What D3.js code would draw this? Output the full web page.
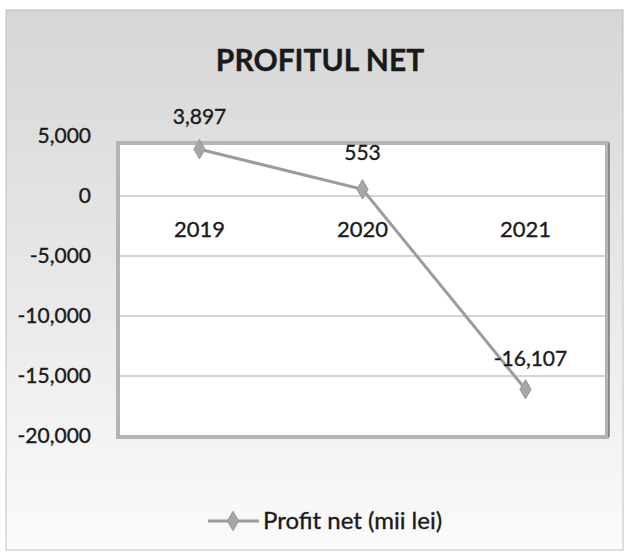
<!DOCTYPE html>
<html lang="en">
<head>
<meta charset="UTF-8">
<title>Profitul net</title>
<style>
	body{margin:0;background:#fff;}
	text{font-family:Lato, "Open Sans", sans-serif;fill:#1a1a1a;stroke:#1a1a1a;stroke-width:0.35px;}
</style>
</head>
<body>
<div id="chart"></div>
<script src="https://d3js.org/d3.v7.min.js"></script>
<script>
	var years = ['2019', '2020', '2021'];
	var profit = [3897, 553, -16107];
	var yTicks = [5000, 0, -5000, -10000, -15000, -20000];
	var seriesName = 'Profit net (mii lei)';

	var W = 629, H = 557;
	// plain hyphen for negatives, like the original
	var fmt = d3.formatLocale({decimal: '.', thousands: ',', grouping: [3], currency: ['', ''], minus: '-'}).format(',');

	var svg = d3.select('#chart').append('svg')
		.attr('width', W).attr('height', H);

	// background gradient like the office chart area
	var grad = svg.append('defs').append('linearGradient')
		.attr('id', 'bg').attr('x1', 0).attr('y1', 0).attr('x2', 0).attr('y2', 1);
	grad.append('stop').attr('offset', '0%').attr('stop-color', '#d6d6d6');
	grad.append('stop').attr('offset', '45%').attr('stop-color', '#e6e6e6');
	grad.append('stop').attr('offset', '100%').attr('stop-color', '#fbfbfb');

	svg.append('rect')
		.attr('x', 6).attr('y', 10).attr('width', 617).attr('height', 540)
		.attr('fill', 'url(#bg)').attr('stroke', '#bdbdbd').attr('stroke-width', 1);

	var plot = {left: 118, right: 607, top: 143, bottom: 437};

	var x = d3.scaleBand().domain(years).range([plot.left, plot.right]);
	var y = d3.scaleLinear().domain([-20000, 5000]).range([436, 136]);

	// plot area
	svg.append('rect')
		.attr('x', plot.left).attr('y', plot.top)
		.attr('width', plot.right - plot.left).attr('height', plot.bottom - plot.top)
		.attr('fill', '#fff').attr('stroke', '#b4b4b4').attr('stroke-width', 4);
	svg.append('line')
		.attr('x1', plot.right + 2).attr('x2', plot.right + 2)
		.attr('y1', plot.top).attr('y2', plot.bottom)
		.attr('stroke', '#777').attr('stroke-width', 1.5);

	// gridlines
	svg.append('g').selectAll('line')
		.data(yTicks.filter(d => d < 5000 && d > -20000))
		.enter().append('line')
		.attr('x1', plot.left + 2).attr('x2', plot.right - 2)
		.attr('y1', d => y(d)).attr('y2', d => y(d))
		.attr('stroke', '#a8a8a8').attr('stroke-width', 1);

	// y axis labels
	var yAxis = d3.axisLeft(y).tickValues(yTicks).tickSize(0).tickPadding(0)
		.tickFormat(fmt);
	var gy = svg.append('g').attr('transform', 'translate(91,0)').call(yAxis);
	gy.select('.domain').remove();
	gy.selectAll('text').attr('font-size', 21).attr('fill', '#1a1a1a')
		.attr('font-family', 'Lato, sans-serif');

	// category labels under the zero line
	var xAxis = d3.axisBottom(x).tickSize(0).tickPadding(0);
	var gx = svg.append('g').attr('transform', 'translate(0,' + (y(0) + 25) + ')').call(xAxis);
	gx.select('.domain').remove();
	gx.selectAll('text').attr('font-size', 22).attr('fill', '#1a1a1a')
		.attr('font-family', 'Lato, sans-serif');

	// line
	var line = d3.line()
		.x((d, i) => x(years[i]) + x.bandwidth() / 2)
		.y(d => y(d));
	svg.append('path').datum(profit)
		.attr('d', line).attr('fill', 'none')
		.attr('stroke', '#9c9c9c').attr('stroke-width', 3);

	var diamond = d3.symbol().type(d3.symbolDiamond).size(110);
	svg.append('g').selectAll('path')
		.data(profit).enter().append('path')
		.attr('d', diamond)
		.attr('transform', (d, i) => 'translate(' + (x(years[i]) + x.bandwidth() / 2) + ',' + y(d) + ')')
		.attr('fill', '#a6a6a6').attr('stroke', '#999');

	// data labels
	var labelDy = [-25, -29, -23];
	svg.append('g').selectAll('text')
		.data(profit).enter().append('text')
		.attr('x', (d, i) => x(years[i]) + x.bandwidth() / 2 + (i === 2 ? 5 : 0))
		.attr('y', (d, i) => y(d) + labelDy[i])
		.attr('text-anchor', 'middle')
		.attr('font-size', 21)
		.text(d => fmt(d));

	// title
	svg.append('text')
		.attr('x', 320).attr('y', 71)
		.attr('text-anchor', 'middle')
		.attr('font-size', 30).attr('font-weight', 'bold')
		.text('PROFITUL NET');

	// legend
	var lg = svg.append('g').attr('transform', 'translate(0,521)');
	lg.append('line').attr('x1', 208).attr('x2', 259).attr('y1', 0).attr('y2', 0)
		.attr('stroke', '#9c9c9c').attr('stroke-width', 3);
	lg.append('path').attr('d', diamond).attr('transform', 'translate(233,0)')
		.attr('fill', '#a6a6a6').attr('stroke', '#999');
	lg.append('text').attr('x', 263).attr('y', 8)
		.attr('font-size', 24).text(seriesName);
</script>
</body>
</html>
